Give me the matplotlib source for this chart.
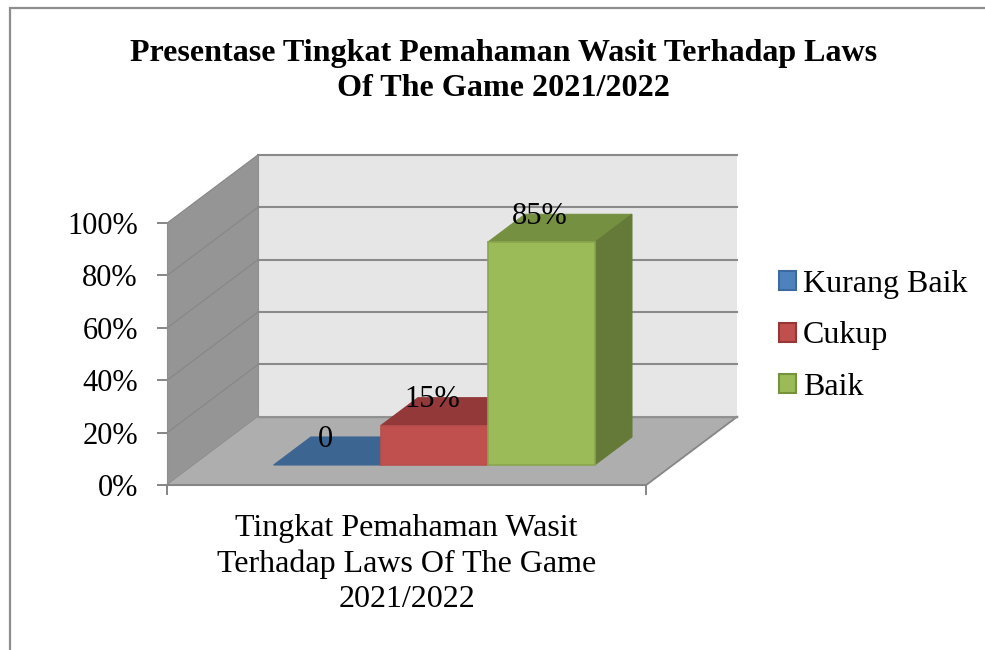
import matplotlib
matplotlib.use("Agg")
import matplotlib.pyplot as plt
from matplotlib.patches import Polygon, Patch
from matplotlib.lines import Line2D

title_lines = ["Presentase Tingkat Pemahaman Wasit Terhadap Laws", "Of The Game 2021/2022"]
category_label = "Tingkat Pemahaman Wasit\nTerhadap Laws Of The Game\n2021/2022"
series_names = ["Kurang Baik", "Cukup", "Baik"]
series_values = [0, 15, 85]
value_labels = ["0", "15%", "85%"]
y_ticks = [0, 20, 40, 60, 80, 100]
y_tick_labels = ["0%", "20%", "40%", "60%", "80%", "100%"]

front_colors = ["#4F81BD", "#C0504D", "#9BBB59"]
top_colors = ["#3D6592", "#93393A", "#769041"]
side_colors = ["#355A82", "#7F3130", "#657A38"]
edge_colors = ["#4A7EBB", "#B8504D", "#8AA64E"]
legend_edges = ["#3A6A9F", "#953735", "#76923C"]

W, H = 985, 650
plt.rcParams["font.family"] = ["Liberation Serif", "DejaVu Serif"]
fig = plt.figure(figsize=(W / 100, H / 100), dpi=100, facecolor="white")
ax = fig.add_axes([167.2 / W, (H - 485) / H, 479 / W, 262 / H])
ax.patch.set_visible(False)
ax.set_xlim(0, 1)
ax.set_ylim(0, 100)

# oblique projection: depth 0 = front plane, depth 1 = back wall
DX = 91 / 479
DY = 68.3 / 262 * 100
def P(x, v, d=0.0):
    return (x + d * DX, v + d * DY)

GREY = "#868686"
def poly(pts, fc, ec="none", lw=0.0, z=1):
    ax.add_patch(Polygon(pts, closed=True, facecolor=fc, edgecolor=ec, linewidth=lw,
                         zorder=z, clip_on=False, joinstyle="miter"))

# walls and floor
poly([P(0, 0, 1), P(1, 0, 1), P(1, 100, 1), P(0, 100, 1)], "#E6E6E6", z=1)
poly([P(0, 0, 0), P(0, 0, 1), P(0, 100, 1), P(0, 100, 0)], "#959595", z=1)
poly([P(0, 0, 0), P(1, 0, 0), P(1, 0, 1), P(0, 0, 1)], "#AEAEAE", z=2)
for v in y_ticks:
    a, b, c = P(0, v, 0), P(0, v, 1), P(1, v, 1)
    ax.plot([a[0], b[0]], [a[1], b[1]], color="#868686", lw=0.8, zorder=1.5, clip_on=False)
    ax.plot([b[0], c[0]], [b[1], c[1]], color="#8A8A8A", lw=1.5, zorder=1.5, clip_on=False)
a, b = P(0, 0, 1), P(0, 100, 1)
ax.plot([a[0], b[0]], [a[1], b[1]], color="#8F8F8F", lw=0.8, zorder=1.4, clip_on=False)
a, b = P(1, 0, 0), P(1, 0, 1)
ax.plot([a[0], b[0]], [a[1], b[1]], color=GREY, lw=1.3, zorder=3, clip_on=False)
a, b = P(0, 0, 1), P(1, 0, 1)
ax.plot([a[0], b[0]], [a[1], b[1]], color="#8F8F8F", lw=1.0, zorder=3, clip_on=False)

# bars
bar_w = 107 / 479
gap = 79.8 / 479
d0, d1 = 20 / 68.3, 48 / 68.3
for i, (val, txt) in enumerate(zip(series_values, value_labels)):
    x0, x1 = gap + i * bar_w, gap + (i + 1) * bar_w
    z = 5 + i
    poly([P(x0, val, d0), P(x1, val, d0), P(x1, val, d1), P(x0, val, d1)], top_colors[i],
         ec=top_colors[i], lw=0.8, z=z)
    poly([P(x1, 0, d0), P(x1, 0, d1), P(x1, val, d1), P(x1, val, d0)], side_colors[i],
         ec=side_colors[i], lw=0.8, z=z)
    if val > 0:
        poly([P(x0, 0, d0), P(x1, 0, d0), P(x1, val, d0), P(x0, val, d0)], front_colors[i],
             ec=edge_colors[i], lw=1.2, z=z + 0.5)
    ax.text(x0 + bar_w / 2 + d0 * DX - 0.003, val + d1 * DY - 0.8, txt, ha="center", va="center",
            fontsize=22, color="black", zorder=20, clip_on=False)

# axes furniture
for s in ("top", "right"):
    ax.spines[s].set_visible(False)
ax.spines["left"].set_color("#8F8F8F")
ax.spines["left"].set_linewidth(0.8)
ax.spines["bottom"].set_color(GREY)
ax.spines["bottom"].set_linewidth(1.5)
ax.spines["left"].set_zorder(4)
ax.spines["bottom"].set_zorder(4)
ax.set_yticks(y_ticks)
ax.set_yticklabels(y_tick_labels, fontsize=22)
ax.tick_params(axis="y", length=7.2, width=1.4, color=GREY, pad=14)
ax.set_xticks([0, 1])
ax.set_xticklabels(["", ""])
ax.tick_params(axis="x", which="major", length=7.2, width=1.4, color=GREY)
ax.set_xticks([0.5], minor=True)
ax.set_xticklabels([category_label], minor=True, fontsize=23, linespacing=1.28)
ax.tick_params(axis="x", which="minor", length=0, pad=21)

# title
fig.text(503.5 / W, 1 - 61 / H, title_lines[0], ha="center", va="baseline",
         fontsize=23.1, fontweight="bold")
fig.text(503.5 / W, 1 - 96.5 / H, title_lines[1], ha="center", va="baseline",
         fontsize=23.1, fontweight="bold")

# legend
handles = [Patch(facecolor=f, edgecolor=e, linewidth=1.5, label=n)
           for f, e, n in zip(front_colors, legend_edges, series_names)]
fig.legend(handles=handles, loc="center left", bbox_to_anchor=(779 / W, 1 - 336 / H),
           frameon=False, fontsize=23, handlelength=0.53, handleheight=0.53,
           handletextpad=0.22, labelspacing=0.70, borderpad=0, borderaxespad=0)

# outer frame (only the top and left edges are visible in the crop)
fig.add_artist(Line2D([10 / W, 10 / W, 1], [0, 1 - 8 / H, 1 - 8 / H], color="#8E8E8E", lw=1.6,
                      transform=fig.transFigure, solid_joinstyle="miter"))

fig.savefig("out.png", dpi=100, facecolor="white")
